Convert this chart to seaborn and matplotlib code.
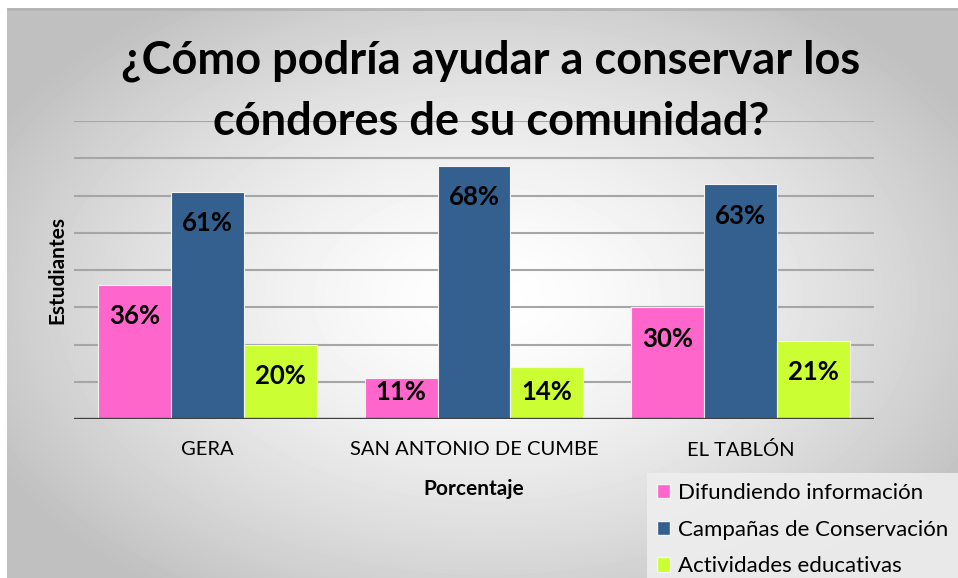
import matplotlib
matplotlib.use("Agg")
import matplotlib.pyplot as plt
import matplotlib.patches as mpatches
import pandas as pd
import numpy as np
import seaborn as sns

# datos
lugares = ["GERA", "SAN ANTONIO DE CUMBE", "EL TABLÓN"]
acciones = ["Difundiendo información", "Campañas de Conservación", "Actividades educativas"]
difundiendo = [36, 11, 30]
campanas = [61, 68, 63]
actividades = [20, 14, 21]
colores = ["#FF66CC", "#34608F", "#CCFF33"]

df = pd.DataFrame({
    "lugar": lugares * 3,
    "accion": [acciones[0]] * 3 + [acciones[1]] * 3 + [acciones[2]] * 3,
    "valor": difundiendo + campanas + actividades,
})

sns.set_style("white")
plt.rcParams["font.family"] = ["Lato", "DejaVu Sans"]
plt.rcParams["text.color"] = "black"
plt.rcParams["axes.labelcolor"] = "black"
plt.rcParams["xtick.color"] = "black"

W, H = 958, 578
fig = plt.figure(figsize=(W / 100, H / 100), dpi=100)
fig.patch.set_facecolor("white")

# fondo con degradado radial
bg = fig.add_axes([7 / W, 0, (W - 7) / W, (H - 8) / H], zorder=0)
yy, xx = np.mgrid[0:570, 0:951]
r = np.sqrt(((xx - 480) / 560) ** 2 + ((yy - 290) / 360) ** 2)
grad = 1 - 0.25 * np.clip(r, 0, 1) ** 1.5
bg.imshow(grad, cmap="gray", vmin=0, vmax=1, aspect="auto", interpolation="bilinear")
bg.axhline(0, color="#b5b5b5", lw=2)
bg.axis("off")

ax = fig.add_axes([74 / W, 159 / H, 800 / W, 298 / H], zorder=1)
ax.patch.set_alpha(0)

sns.barplot(data=df, x="lugar", y="valor", hue="accion", palette=colores, saturation=1,
            width=0.82, errorbar=None, edgecolor="#f4f4f4", linewidth=0.8,
            legend=False, ax=ax)

ax.set_ylim(0, 80)
ax.set_xlim(-0.5, 2.5)
ax.set_yticks(range(10, 81, 10))
ax.yaxis.grid(True, color="#a6a6a6", lw=1.5)
ax.set_axisbelow(True)
ax.tick_params(axis="y", left=False, labelleft=False)
ax.tick_params(axis="x", bottom=False, labelsize=14.5, pad=12)
for s in ax.spines.values():
    s.set_visible(False)
ax.axhline(0, color="#404040", lw=2.4, zorder=5)

ax.set_xlabel("Porcentaje", fontsize=15, fontweight="bold", labelpad=15)
ax.set_ylabel("Estudiantes", fontsize=15, fontweight="bold", labelpad=5)

# etiquetas dentro de las barras
for cont in ax.containers:
    for bar in cont:
        v = bar.get_height()
        ax.text(bar.get_x() + bar.get_width() / 2, max(v - 8.4, 7.3), f"{v:.0f}%",
                ha="center", va="center", fontsize=18.5, fontweight="bold", color="black")

fig.text(491 / W, 1 - 91 / H, "¿Cómo podría ayudar a conservar los\ncóndores de su comunidad?",
         ha="center", va="center", fontsize=32.5, fontweight="bold", linespacing=1.56, zorder=10)

handles = [mpatches.Patch(facecolor=c, edgecolor="#f4f4f4") for c in colores]
leg = fig.legend(handles, acciones, loc="upper left", bbox_to_anchor=(647 / W, 1 - 473 / H),
                 frameon=True, fontsize=16, handlelength=0.6, handleheight=0.6,
                 handletextpad=0.35, labelspacing=0.75, borderpad=0.45, borderaxespad=0,
                 fancybox=False)
leg.get_frame().set_facecolor("#eeeeee")
leg.get_frame().set_edgecolor("none")
leg.get_frame().set_alpha(0.9)

plt.savefig("out.png", dpi=100)
